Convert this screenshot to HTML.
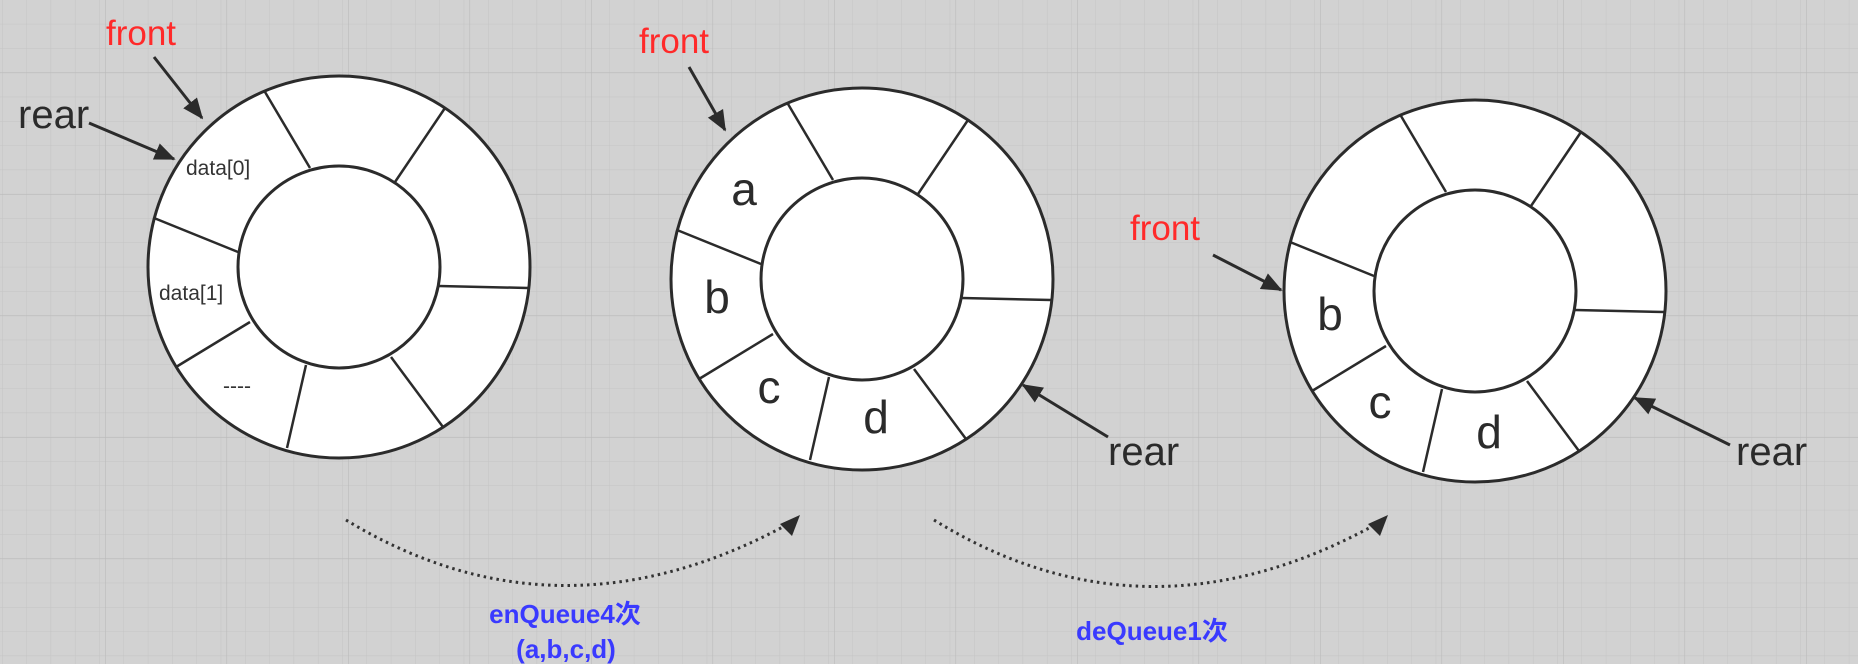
<!DOCTYPE html>
<html><head><meta charset="utf-8"><style>
html,body{margin:0;padding:0;background:#d2d2d2;}
svg{display:block;}
text{font-family:"Liberation Sans","Noto Sans CJK SC",sans-serif;}
</style></head><body>
<svg id="s" width="1858" height="664" viewBox="0 0 1858 664" xmlns="http://www.w3.org/2000/svg">
<defs>
<pattern id="minor" width="24.3" height="24.3" patternUnits="userSpaceOnUse" x="2.5" y="0">
<path d="M24.3 0V24.3M0 24.3H24.3" stroke="#c4c4c4" stroke-width="1" fill="none"/>
</pattern>
<pattern id="major" width="121.5" height="121.5" patternUnits="userSpaceOnUse" x="105" y="-49">
<path d="M0 0V121.5M0 0H121.5" stroke="#bababa" stroke-width="1.2" fill="none"/>
</pattern>
<marker id="ah" viewBox="0 0 12 10" refX="11" refY="5" markerWidth="7" markerHeight="6" orient="auto">
<path d="M0 0L12 5L0 10z" fill="#2b2b2b"/>
</marker>
</defs>
<rect width="1858" height="664" fill="#d2d2d2"/>
<rect width="1858" height="664" fill="url(#minor)"/>
<rect width="1858" height="664" fill="url(#major)"/>
<g id="rings"></g>

<text x="186" y="175" font-size="21" fill="#333">data[0]</text>
<text x="159" y="300" font-size="21" fill="#333">data[1]</text>
<text x="223" y="393" font-size="21" fill="#333">----</text>
<text x="106" y="45" font-size="35" fill="#ff2a2a">front</text>
<line x1="154" y1="57" x2="202" y2="118" stroke="#2b2b2b" stroke-width="3" marker-end="url(#ah)"/>
<text x="18" y="128" font-size="40" fill="#2b2b2b">rear</text>
<line x1="89" y1="123" x2="174" y2="159" stroke="#2b2b2b" stroke-width="3" marker-end="url(#ah)"/>

<g font-size="46" fill="#2b2b2b" text-anchor="middle">
<text x="744" y="205">a</text>
<text x="717" y="313">b</text>
<text x="769" y="403">c</text>
<text x="876" y="433">d</text>
<text x="1330" y="330">b</text>
<text x="1380" y="418">c</text>
<text x="1489" y="448">d</text>
</g>
<text x="639" y="53" font-size="35" fill="#ff2a2a">front</text>
<line x1="689" y1="67" x2="725" y2="130" stroke="#2b2b2b" stroke-width="3" marker-end="url(#ah)"/>
<text x="1108" y="465" font-size="40" fill="#2b2b2b">rear</text>
<line x1="1108" y1="437" x2="1023" y2="385" stroke="#2b2b2b" stroke-width="3" marker-end="url(#ah)"/>

<text x="1130" y="240" font-size="35" fill="#ff2a2a">front</text>
<line x1="1213" y1="255" x2="1281" y2="290" stroke="#2b2b2b" stroke-width="3" marker-end="url(#ah)"/>
<text x="1736" y="465" font-size="40" fill="#2b2b2b">rear</text>
<line x1="1730" y1="445" x2="1635" y2="398" stroke="#2b2b2b" stroke-width="3" marker-end="url(#ah)"/>

<path d="M346 520 Q560 650 792 522" fill="none" stroke="#333" stroke-width="3" stroke-dasharray="2.5 4"/>
<path d="M780 524 L800 515 L792 536 z" fill="#2b2b2b"/>
<path d="M934 520 Q1148 652 1380 522" fill="none" stroke="#333" stroke-width="3" stroke-dasharray="2.5 4"/>
<path d="M1368 524 L1388 515 L1380 536 z" fill="#2b2b2b"/>
<g font-size="26" font-weight="bold" fill="#3a3aff" text-anchor="middle">
<text x="565" y="623">enQueue4次</text>
<text x="566" y="658">(a,b,c,d)</text>
<text x="1152" y="640">deQueue1次</text>
</g>
</svg>
<script>
const ringCentersX = [339, 862, 1475];
const ringCentersY = [267, 279, 291];
const spokeOuter = [[-74,-175],[106,-159],[189,21],[104,160],[-52,181],[-163,100],[-185,-49]];
const spokeInner = [[-29,-99],[56,-85],[100,19],[52,90],[-33,98],[-89,55],[-101,-15]];
const NS = 'http://www.w3.org/2000/svg';
const g = document.getElementById('rings');
ringCentersX.forEach((cx, i) => {
  const cy = ringCentersY[i];
  const grp = document.createElementNS(NS, 'g');
  
  
  const outer = document.createElementNS(NS, 'ellipse');
  outer.setAttribute('cx', cx); outer.setAttribute('cy', cy);
  outer.setAttribute('rx', 191); outer.setAttribute('ry', 191);
  outer.setAttribute('fill', '#fff'); outer.setAttribute('stroke', '#2b2b2b'); outer.setAttribute('stroke-width', '3');
  
  
  grp.appendChild(outer);
  spokeOuter.forEach((o, k) => {
    const l = document.createElementNS(NS, 'line');
    l.setAttribute('x1', cx + o[0]); l.setAttribute('y1', cy + o[1]);
    l.setAttribute('x2', cx + spokeInner[k][0]); l.setAttribute('y2', cy + spokeInner[k][1]);
    l.setAttribute('stroke', '#2b2b2b'); l.setAttribute('stroke-width', '2.5');
    
    
    grp.appendChild(l);
  });
  const inner = document.createElementNS(NS, 'ellipse');
  inner.setAttribute('cx', cx); inner.setAttribute('cy', cy);
  inner.setAttribute('rx', 101); inner.setAttribute('ry', 101);
  inner.setAttribute('fill', '#fff'); inner.setAttribute('stroke', '#2b2b2b'); inner.setAttribute('stroke-width', '3');
  
  
  grp.appendChild(inner);
  g.appendChild(grp);
});
</script>
</body></html>
